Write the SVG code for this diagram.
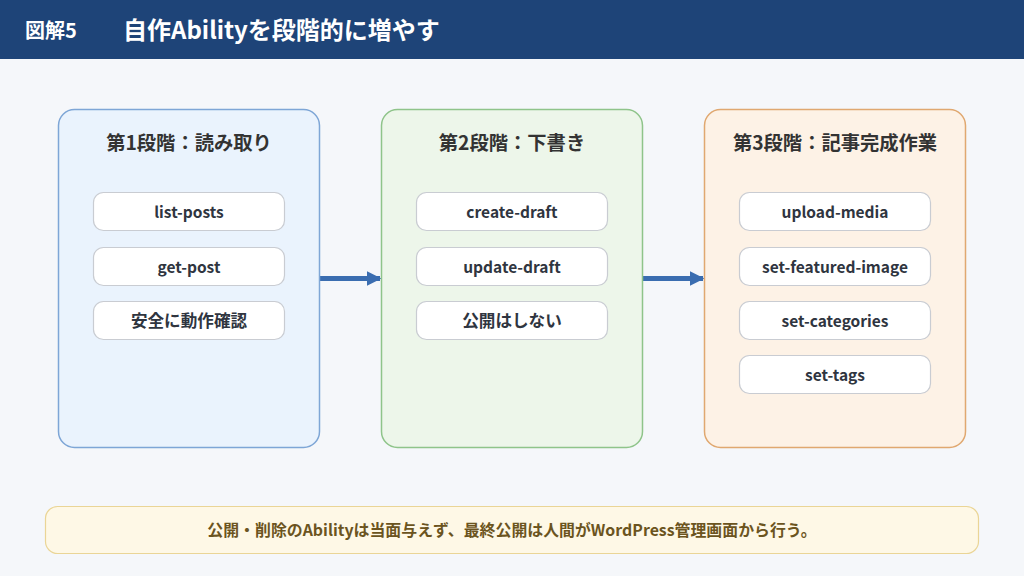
<svg xmlns="http://www.w3.org/2000/svg" width="1024" height="576" viewBox="0 0 1024 576">
<defs>
<style>
text{font-family:"Noto Sans CJK JP","Noto Sans",sans-serif;font-weight:700}
.ph{font-size:19.3px;fill:#333;text-anchor:middle}
.it{fill:#fff;stroke:#c9ccd2;stroke-width:1.2}
.itx{font-size:15.5px;fill:#2f3540;text-anchor:middle}
.jp{font-size:16.6px}
.conn{stroke:#3a6db0;stroke-width:5;fill:none}
</style>
<marker id="ah" viewBox="0 0 10 10" refX="9" refY="5" markerWidth="3" markerHeight="3.4" orient="auto" markerUnits="strokeWidth"><path d="M0,0 L10,5 L0,10 Z" fill="#3a6db0"/></marker>
</defs>
<rect width="1024" height="576" fill="#f5f7fa"/>
<g id="header">
<rect x="0" y="0" width="1024" height="59" fill="#1e4478"/>
<text x="25" y="38" font-size="20" fill="#fff">図解5</text>
<text x="123" y="39" font-size="24" fill="#fff">自作Abilityを段階的に増やす</text>
</g>
<g id="connectors">
<line class="conn" x1="320" y1="278.5" x2="380" y2="278.5" marker-end="url(#ah)"/>
<line class="conn" x1="643" y1="278.5" x2="703" y2="278.5" marker-end="url(#ah)"/>
</g>
<g id="stage1">
<rect x="58.5" y="109.5" width="261" height="338" rx="16" fill="#eaf3fd" stroke="#7ea6d6" stroke-width="1.5"/>
<text class="ph" x="189" y="150">第1段階：読み取り</text>
<rect class="it" x="93.5" y="192.5" width="191" height="38" rx="10"/>
<text class="itx" x="189" y="217.5">list-posts</text>
<rect class="it" x="93.5" y="247.5" width="191" height="38" rx="10"/>
<text class="itx" x="189" y="272.5">get-post</text>
<rect class="it" x="93.5" y="301.5" width="191" height="38" rx="10"/>
<text class="itx jp" x="189" y="326.8">安全に動作確認</text>
</g>
<g id="stage2">
<rect x="381.5" y="109.5" width="261" height="338" rx="16" fill="#edf6ea" stroke="#8fc48a" stroke-width="1.5"/>
<text class="ph" x="512" y="150">第2段階：下書き</text>
<rect class="it" x="416.5" y="192.5" width="191" height="38" rx="10"/>
<text class="itx" x="512" y="217.5">create-draft</text>
<rect class="it" x="416.5" y="247.5" width="191" height="38" rx="10"/>
<text class="itx" x="512" y="272.5">update-draft</text>
<rect class="it" x="416.5" y="301.5" width="191" height="38" rx="10"/>
<text class="itx jp" x="512" y="326.8">公開はしない</text>
</g>
<g id="stage3">
<rect x="704.5" y="109.5" width="261" height="338" rx="16" fill="#fdf2e6" stroke="#e0a870" stroke-width="1.5"/>
<text class="ph" x="835" y="150">第3段階：記事完成作業</text>
<rect class="it" x="739.5" y="192.5" width="191" height="38" rx="10"/>
<text class="itx" x="835" y="217.5">upload-media</text>
<rect class="it" x="739.5" y="247.5" width="191" height="38" rx="10"/>
<text class="itx" x="835" y="272.5">set-featured-image</text>
<rect class="it" x="739.5" y="301.5" width="191" height="38" rx="10"/>
<text class="itx" x="835" y="326.5">set-categories</text>
<rect class="it" x="739.5" y="355.5" width="191" height="38" rx="10"/>
<text class="itx" x="835" y="380.5">set-tags</text>
</g>
<g id="note">
<rect x="45.5" y="506.5" width="933" height="47" rx="12" fill="#fef8e6" stroke="#ead596" stroke-width="1.2"/>
<text x="512" y="535.5" font-size="15.9" fill="#6b5420" text-anchor="middle">公開・削除のAbilityは当面与えず、最終公開は人間がWordPress管理画面から行う。</text>
</g>
</svg>
